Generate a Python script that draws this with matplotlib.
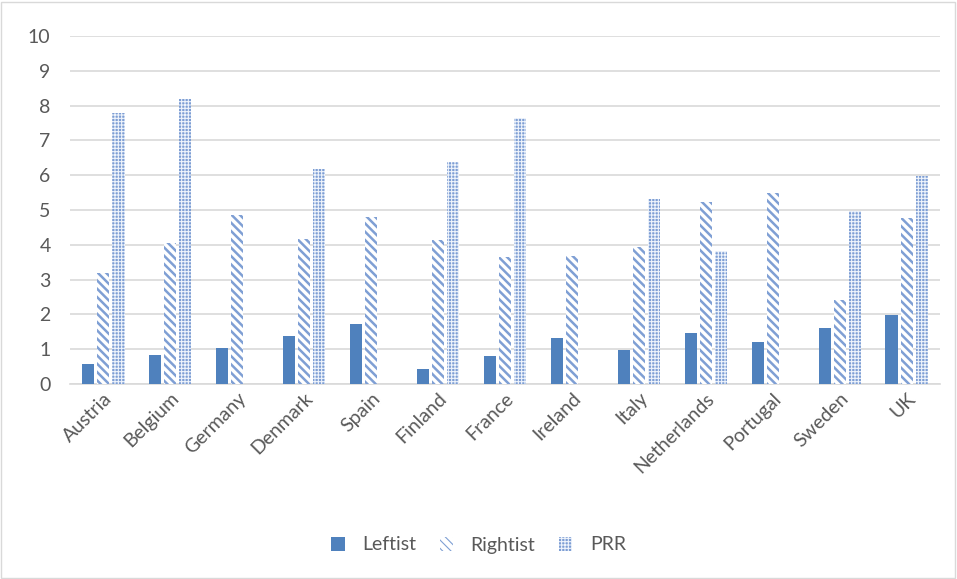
import matplotlib
matplotlib.use("Agg")
import matplotlib.pyplot as plt
import numpy as np
from matplotlib.patches import Rectangle

countries = ["Austria", "Belgium", "Germany", "Denmark", "Spain", "Finland", "France",
             "Ireland", "Italy", "Netherlands", "Portugal", "Sweden", "UK"]
leftist = [0.58, 0.84, 1.03, 1.37, 1.71, 0.44, 0.81, 1.33, 0.99, 1.47, 1.22, 1.62, 1.97]
rightist = [3.19, 4.06, 4.86, 4.18, 4.81, 4.14, 3.65, 3.68, 3.94, 5.22, 5.48, 2.41, 4.77]
prr = [7.79, 8.20, 0, 6.18, 0, 6.38, 7.64, 0, 5.32, 3.82, 0, 4.98, 5.99]
yticks = list(range(0, 11))

plt.rcParams['font.family'] = ['Lato', 'DejaVu Sans']

blue = '#4f81bd'
text_c = '#595959'
fs = 14

fig = plt.figure(figsize=(9.57, 5.79), dpi=100)
ax = fig.add_axes([70/957, 1-384/579, 870/957, 348/579])

x = np.arange(len(countries))
w = 0.18
off = 0.225
ax.bar(x - off, leftist, w, color=blue, label='Leftist', zorder=3)
plt.rcParams['hatch.linewidth'] = 1.8
ax.bar(x, rightist, w, facecolor='white', edgecolor='#7f9fd4', hatch='\\\\\\\\', linewidth=0,
       label='Rightist', zorder=3)
plt.rcParams['hatch.linewidth'] = 0.8
ax.bar(x + off, prr, w, facecolor='#7d9ed4', edgecolor='#eef3fb', hatch='+++++', linewidth=0,
       label='PRR', zorder=3)

ax.set_xlim(-0.5, len(countries) - 0.5)
ax.set_ylim(0, 10)
ax.set_yticks(yticks)
ax.set_yticklabels([str(t) for t in yticks], fontsize=fs, color=text_c)
ax.yaxis.grid(True, color='#d9d9d9', linewidth=1.2, zorder=0)
ax.set_axisbelow(True)
ax.tick_params(axis='y', length=0, pad=14)
ax.tick_params(axis='x', length=0, pad=4)
ax.set_xticks(x)
ax.set_xticklabels(countries, rotation=45, ha='right', va='top', rotation_mode='anchor',
                   fontsize=fs, color=text_c)
for s in ['top', 'right', 'left']:
    ax.spines[s].set_visible(False)
ax.spines['bottom'].set_color('#d9d9d9')
ax.spines['bottom'].set_linewidth(1.2)

leg = fig.legend(loc='center', bbox_to_anchor=(0.5, 1-545/579), ncol=3, frameon=False,
                 fontsize=fs, handlelength=0.7, handleheight=0.7, columnspacing=1.2,
                 handletextpad=0.9)
for t in leg.get_texts():
    t.set_color(text_c)

fig.patches.append(Rectangle((1/957, 1/579), 954/957, 576/579, transform=fig.transFigure,
                             fill=False, edgecolor='#d9d9d9', linewidth=1))

fig.savefig('out.png', dpi=100)
